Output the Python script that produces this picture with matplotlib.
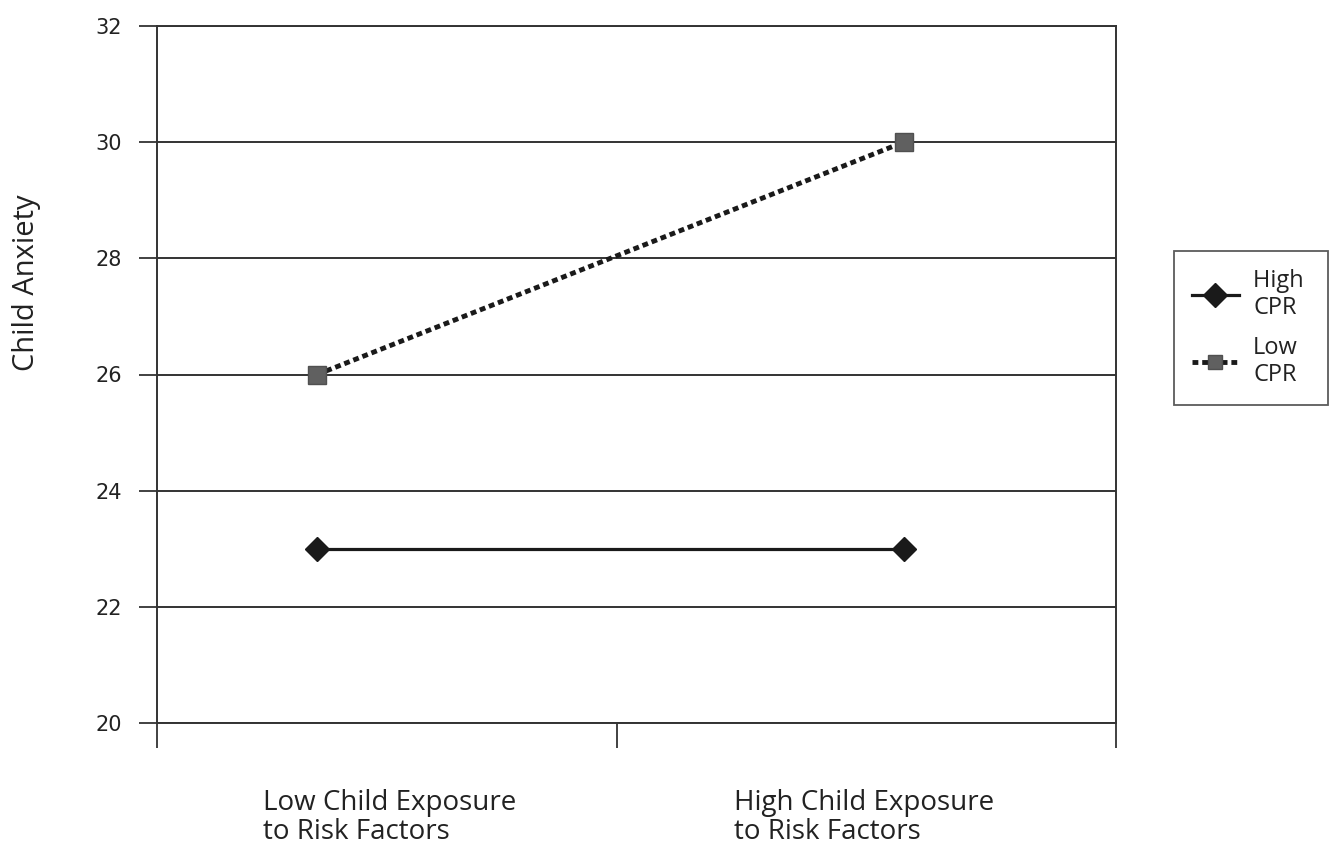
import matplotlib
matplotlib.use("Agg")
import matplotlib.pyplot as plt
from matplotlib.lines import Line2D
from matplotlib.transforms import blended_transform_factory

# data
categories = ["Low Child Exposure\nto Risk Factors", "High Child Exposure\nto Risk Factors"]
x_points = [0.334, 1.557]   # where the markers sit along the category axis
label_x = [0.485, 1.474]    # centres of the category labels
high_cpr = [23, 23]
low_cpr = [26, 30]
y_ticks = [20, 22, 24, 26, 28, 30, 32]
series_names = ["High \nCPR", "Low\nCPR"]

W, H = 1342, 849
fig = plt.figure(figsize=(W / 100, H / 100), dpi=100)
ax = fig.add_axes([157 / W, 1 - 723 / H, (1116 - 157) / W, (723 - 26) / H])

line_col = "#333333"
ax.set_xlim(0, 2)
ax.set_ylim(20, 32)
ax.set_yticks(y_ticks)
ax.set_yticklabels([str(v) for v in y_ticks], fontsize=15, color="#222222")
for t in ax.get_yticklabels():
    t.set_verticalalignment("center_baseline")
ax.set_xticks([0, 0.96, 2])
ax.set_xticklabels([])
ax.tick_params(axis="y", direction="out", length=13, width=1.3, color=line_col, pad=12)
ax.tick_params(axis="x", direction="out", length=18, width=1.3, color=line_col)
ax.grid(axis="y", color=line_col, linewidth=1.4)
for s in ax.spines.values():
    s.set_color(line_col)
    s.set_linewidth(1.4)
ax.set_axisbelow(True)

ax.plot(x_points, high_cpr, color="#1a1a1a", linewidth=2.3, marker="D",
        markersize=12, markerfacecolor="#1a1a1a", markeredgecolor="#1a1a1a")
ax.plot(x_points, low_cpr, color="#1a1a1a", linewidth=3.5, linestyle=(0, (1.2, 0.8)),
        marker="s", markersize=13, markerfacecolor="#606060", markeredgecolor="#505050")

trans = blended_transform_factory(ax.transData, fig.transFigure)
for lx, lab in zip(label_x, categories):
    ax.text(lx, 1 - 789 / H, lab, transform=trans, ha="center", va="top",
            multialignment="left", fontsize=20, family="Open Sans", color="#222222",
            linespacing=1.05)

fig.text(27 / W, 1 - 283 / H, "Child Anxiety", rotation=90, ha="center", va="center",
         fontsize=21, family="Open Sans", color="#222222")

handles = [
    Line2D([], [], color="#1a1a1a", linewidth=2.3, marker="D", markersize=12,
           markerfacecolor="#1a1a1a"),
    Line2D([], [], color="#1a1a1a", linewidth=3.5, linestyle=(0, (1.2, 0.8)), marker="s",
           markersize=10, markerfacecolor="#606060", markeredgecolor="#505050"),
]
leg = fig.legend(handles, series_names, loc="upper left",
                 bbox_to_anchor=(1174 / W, 1 - 251 / H), borderaxespad=0,
                 frameon=True, fancybox=False, edgecolor="#333333",
                 handlelength=2.0, handletextpad=0.6, borderpad=0.75, labelspacing=0.65,
                 prop={"family": "Open Sans", "size": 17})
leg.get_frame().set_linewidth(1.3)
for t in leg.get_texts():
    t.set_color("#222222")
    t.set_linespacing(1.2)

fig.savefig("out.png", dpi=100)
